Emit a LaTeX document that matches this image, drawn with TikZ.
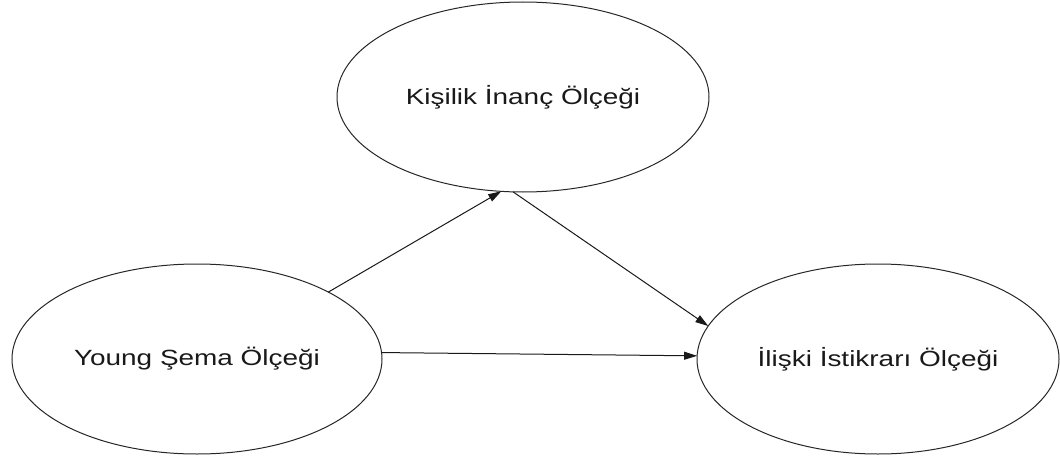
\documentclass[tikz,border=0pt]{standalone}
\usepackage{fontspec}
\setmainfont{Liberation Sans}
\usepackage{graphicx}
\usetikzlibrary{shapes.geometric,arrows.meta}
\tikzset{
  scale ellipse/.style={ellipse, draw=black!85, line width=1pt, inner sep=0pt, outer sep=0pt,
    font=\fontsize{22}{26}\selectfont, text=black!90},
  conn/.style={draw=black!90, line width=1pt, -{Triangle[length=13pt,width=8pt]}}
}
\newcommand{\wide}[1]{\scalebox{1.27}[1]{#1}}
\begin{document}
\begin{tikzpicture}[x=1pt,y=-1pt]
\useasboundingbox (0,0) rectangle (1060,460);
\node[scale ellipse, minimum width=372pt, minimum height=190pt] (kis) at (523,97) {\wide{Kişilik İnanç Ölçeği}};
\node[scale ellipse, minimum width=370pt, minimum height=190pt] (yng) at (197,359) {\wide{Young Şema Ölçeği}};
\node[scale ellipse, minimum width=362pt, minimum height=190pt] (ilk) at (878,359) {\wide{İlişki İstikrarı Ölçeği}};
\draw[conn] (yng.27.6) -- (kis.257.5);
\draw[conn] (kis.264) -- (ilk.169.8);
\draw[conn] (yng.2.2) -- (ilk.179.7);
\end{tikzpicture}
\end{document}
